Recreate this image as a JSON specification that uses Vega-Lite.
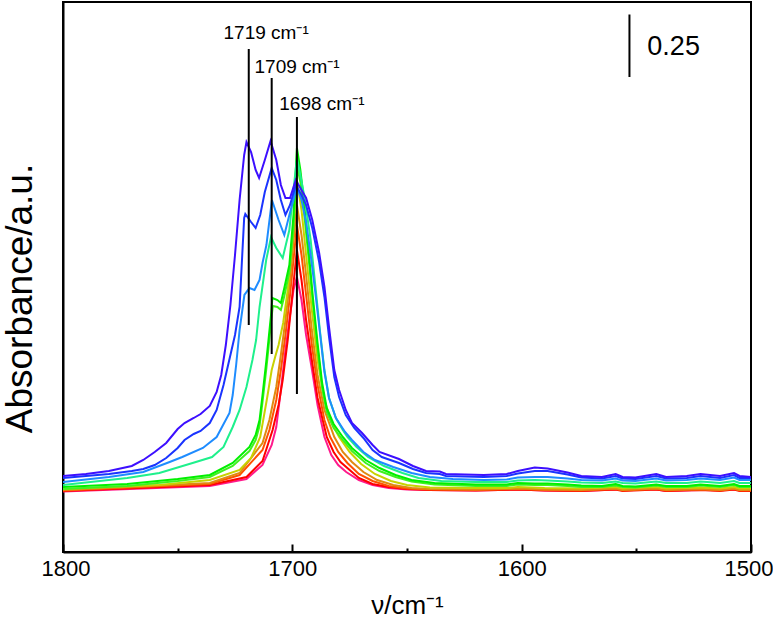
{
"$schema": "https://vega.github.io/schema/vega-lite/v6.json",
"width": 688, "height": 550,
"autosize": {"type": "none"},
"padding": {"left": 63, "top": 2, "right": 22, "bottom": 78},
"background": "white",
"config": {"font": "Liberation Sans", "view": {"stroke": "black", "strokeWidth": 2}, "axis": {"grid": false}},
"datasets": {
"spectra": [
{"series":"pink","nu":1800,"A":0.242},{"series":"pink","nu":1736,"A":0.264},{"series":"pink","nu":1720,"A":0.292},{"series":"pink","nu":1713,"A":0.348},{"series":"pink","nu":1709,"A":0.428},{"series":"pink","nu":1707,"A":0.5},{"series":"pink","nu":1705,"A":0.648},{"series":"pink","nu":1703,"A":0.808},{"series":"pink","nu":1701,"A":0.948},{"series":"pink","nu":1699.5,"A":1.048},{"series":"pink","nu":1698,"A":1.1},{"series":"pink","nu":1696,"A":1.008},{"series":"pink","nu":1694,"A":0.868},{"series":"pink","nu":1691.4,"A":0.728},{"series":"pink","nu":1689,"A":0.588},{"series":"pink","nu":1686,"A":0.46},{"series":"pink","nu":1683,"A":0.388},{"series":"pink","nu":1680,"A":0.348},{"series":"pink","nu":1676.5,"A":0.32},{"series":"pink","nu":1671,"A":0.288},{"series":"pink","nu":1665,"A":0.268},{"series":"pink","nu":1658,"A":0.256},{"series":"pink","nu":1650,"A":0.25},{"series":"pink","nu":1640,"A":0.248},{"series":"pink","nu":1620,"A":0.246},{"series":"pink","nu":1601.7,"A":0.25},{"series":"pink","nu":1590,"A":0.246},{"series":"pink","nu":1574,"A":0.244},{"series":"pink","nu":1559,"A":0.25},{"series":"pink","nu":1541.3,"A":0.25},{"series":"pink","nu":1537,"A":0.244},{"series":"pink","nu":1522,"A":0.248},{"series":"pink","nu":1507.4,"A":0.25},{"series":"pink","nu":1500,"A":0.244},

{"series":"red","nu":1800,"A":0.244},{"series":"red","nu":1736,"A":0.268},{"series":"red","nu":1720,"A":0.3},{"series":"red","nu":1713,"A":0.364},{"series":"red","nu":1708.6,"A":0.488},{"series":"red","nu":1706,"A":0.588},{"series":"red","nu":1704.2,"A":0.688},{"series":"red","nu":1702,"A":0.848},{"series":"red","nu":1700,"A":1.028},{"series":"red","nu":1698,"A":1.208},{"series":"red","nu":1696,"A":1.088},{"series":"red","nu":1694,"A":0.928},{"series":"red","nu":1691.5,"A":0.768},{"series":"red","nu":1689,"A":0.616},{"series":"red","nu":1685,"A":0.46},{"series":"red","nu":1682,"A":0.4},{"series":"red","nu":1679,"A":0.36},{"series":"red","nu":1675,"A":0.328},{"series":"red","nu":1671,"A":0.296},{"series":"red","nu":1665,"A":0.272},{"series":"red","nu":1658,"A":0.26},{"series":"red","nu":1650,"A":0.252},{"series":"red","nu":1640,"A":0.248},{"series":"red","nu":1620,"A":0.246},{"series":"red","nu":1601.7,"A":0.25},{"series":"red","nu":1590,"A":0.246},{"series":"red","nu":1574,"A":0.244},{"series":"red","nu":1559,"A":0.25},{"series":"red","nu":1556,"A":0.244},{"series":"red","nu":1541.3,"A":0.25},{"series":"red","nu":1537,"A":0.244},{"series":"red","nu":1522,"A":0.248},{"series":"red","nu":1513.5,"A":0.244},{"series":"red","nu":1507.4,"A":0.25},{"series":"red","nu":1505,"A":0.244},{"series":"red","nu":1500,"A":0.244},

{"series":"redorange","nu":1800,"A":0.246},{"series":"redorange","nu":1736,"A":0.272},{"series":"redorange","nu":1723,"A":0.308},{"series":"redorange","nu":1713,"A":0.408},{"series":"redorange","nu":1710,"A":0.488},{"series":"redorange","nu":1707,"A":0.608},{"series":"redorange","nu":1705,"A":0.728},{"series":"redorange","nu":1703,"A":0.868},{"series":"redorange","nu":1701,"A":1.028},{"series":"redorange","nu":1699.5,"A":1.168},{"series":"redorange","nu":1698,"A":1.308},{"series":"redorange","nu":1696,"A":1.188},{"series":"redorange","nu":1694,"A":1.028},{"series":"redorange","nu":1691.5,"A":0.828},{"series":"redorange","nu":1689,"A":0.668},{"series":"redorange","nu":1686,"A":0.528},{"series":"redorange","nu":1683.5,"A":0.46},{"series":"redorange","nu":1680,"A":0.4},{"series":"redorange","nu":1676,"A":0.356},{"series":"redorange","nu":1671,"A":0.312},{"series":"redorange","nu":1665,"A":0.284},{"series":"redorange","nu":1658,"A":0.264},{"series":"redorange","nu":1650,"A":0.254},{"series":"redorange","nu":1640,"A":0.25},{"series":"redorange","nu":1620,"A":0.248},{"series":"redorange","nu":1601.7,"A":0.252},{"series":"redorange","nu":1590,"A":0.248},{"series":"redorange","nu":1574,"A":0.246},{"series":"redorange","nu":1559,"A":0.252},{"series":"redorange","nu":1556,"A":0.246},{"series":"redorange","nu":1541.3,"A":0.252},{"series":"redorange","nu":1537,"A":0.246},{"series":"redorange","nu":1522,"A":0.25},{"series":"redorange","nu":1513.5,"A":0.246},{"series":"redorange","nu":1507.4,"A":0.252},{"series":"redorange","nu":1505,"A":0.246},{"series":"redorange","nu":1500,"A":0.246},

{"series":"orange","nu":1800,"A":0.248},{"series":"orange","nu":1736,"A":0.276},{"series":"orange","nu":1723,"A":0.316},{"series":"orange","nu":1713,"A":0.436},{"series":"orange","nu":1710,"A":0.528},{"series":"orange","nu":1707,"A":0.66},{"series":"orange","nu":1705,"A":0.788},{"series":"orange","nu":1703,"A":0.928},{"series":"orange","nu":1701,"A":1.088},{"series":"orange","nu":1699.5,"A":1.24},{"series":"orange","nu":1698,"A":1.388},{"series":"orange","nu":1696,"A":1.268},{"series":"orange","nu":1694,"A":1.108},{"series":"orange","nu":1691.5,"A":0.888},{"series":"orange","nu":1689,"A":0.708},{"series":"orange","nu":1686,"A":0.568},{"series":"orange","nu":1681.7,"A":0.46},{"series":"orange","nu":1678,"A":0.4},{"series":"orange","nu":1674,"A":0.36},{"series":"orange","nu":1669,"A":0.32},{"series":"orange","nu":1663,"A":0.288},{"series":"orange","nu":1656,"A":0.268},{"series":"orange","nu":1648,"A":0.256},{"series":"orange","nu":1640,"A":0.252},{"series":"orange","nu":1620,"A":0.25},{"series":"orange","nu":1601.7,"A":0.254},{"series":"orange","nu":1590,"A":0.25},{"series":"orange","nu":1574,"A":0.248},{"series":"orange","nu":1559,"A":0.254},{"series":"orange","nu":1556,"A":0.248},{"series":"orange","nu":1541.3,"A":0.254},{"series":"orange","nu":1537,"A":0.248},{"series":"orange","nu":1522,"A":0.252},{"series":"orange","nu":1513.5,"A":0.248},{"series":"orange","nu":1507.4,"A":0.254},{"series":"orange","nu":1505,"A":0.248},{"series":"orange","nu":1500,"A":0.248},

{"series":"yellow","nu":1800,"A":0.252},{"series":"yellow","nu":1758,"A":0.268},{"series":"yellow","nu":1736,"A":0.288},{"series":"yellow","nu":1723,"A":0.328},{"series":"yellow","nu":1718,"A":0.376},{"series":"yellow","nu":1714,"A":0.46},{"series":"yellow","nu":1711,"A":0.616},{"series":"yellow","nu":1709,"A":0.728},{"series":"yellow","nu":1707.5,"A":0.78},{"series":"yellow","nu":1706,"A":0.828},{"series":"yellow","nu":1704,"A":0.916},{"series":"yellow","nu":1702,"A":1.048},{"series":"yellow","nu":1700,"A":1.248},{"series":"yellow","nu":1698,"A":1.488},{"series":"yellow","nu":1696,"A":1.368},{"series":"yellow","nu":1694,"A":1.188},{"series":"yellow","nu":1691.5,"A":0.968},{"series":"yellow","nu":1689,"A":0.768},{"series":"yellow","nu":1686,"A":0.608},{"series":"yellow","nu":1683,"A":0.52},{"series":"yellow","nu":1679.6,"A":0.46},{"series":"yellow","nu":1675,"A":0.4},{"series":"yellow","nu":1670,"A":0.352},{"series":"yellow","nu":1664,"A":0.312},{"series":"yellow","nu":1657,"A":0.284},{"series":"yellow","nu":1650,"A":0.268},{"series":"yellow","nu":1640,"A":0.258},{"series":"yellow","nu":1620,"A":0.256},{"series":"yellow","nu":1606.5,"A":0.256},{"series":"yellow","nu":1601.7,"A":0.26},{"series":"yellow","nu":1590,"A":0.256},{"series":"yellow","nu":1574,"A":0.254},{"series":"yellow","nu":1559,"A":0.26},{"series":"yellow","nu":1556,"A":0.254},{"series":"yellow","nu":1541.3,"A":0.26},{"series":"yellow","nu":1537,"A":0.254},{"series":"yellow","nu":1522,"A":0.258},{"series":"yellow","nu":1513.5,"A":0.254},{"series":"yellow","nu":1507.4,"A":0.26},{"series":"yellow","nu":1505,"A":0.254},{"series":"yellow","nu":1500,"A":0.254},

{"series":"greenB","nu":1800,"A":0.252},{"series":"greenB","nu":1772,"A":0.264},{"series":"greenB","nu":1750,"A":0.284},{"series":"greenB","nu":1736,"A":0.3},{"series":"greenB","nu":1726,"A":0.344},{"series":"greenB","nu":1718.7,"A":0.404},{"series":"greenB","nu":1716,"A":0.448},{"series":"greenB","nu":1714.3,"A":0.504},{"series":"greenB","nu":1713,"A":0.6},{"series":"greenB","nu":1711.3,"A":0.736},{"series":"greenB","nu":1710.4,"A":0.816},{"series":"greenB","nu":1709.3,"A":0.92},{"series":"greenB","nu":1708.5,"A":0.984},{"series":"greenB","nu":1706.5,"A":0.98},{"series":"greenB","nu":1705,"A":0.968},{"series":"greenB","nu":1703.5,"A":1.024},{"series":"greenB","nu":1701.3,"A":1.12},{"series":"greenB","nu":1699.5,"A":1.296},{"series":"greenB","nu":1698,"A":1.548},{"series":"greenB","nu":1696.5,"A":1.48},{"series":"greenB","nu":1695,"A":1.368},{"series":"greenB","nu":1693,"A":1.184},{"series":"greenB","nu":1691,"A":0.992},{"series":"greenB","nu":1689,"A":0.816},{"series":"greenB","nu":1687,"A":0.656},{"series":"greenB","nu":1685,"A":0.56},{"series":"greenB","nu":1682,"A":0.496},{"series":"greenB","nu":1678,"A":0.448},{"series":"greenB","nu":1674,"A":0.404},{"series":"greenB","nu":1668,"A":0.356},{"series":"greenB","nu":1662,"A":0.324},{"series":"greenB","nu":1655,"A":0.3},{"series":"greenB","nu":1648,"A":0.282},{"series":"greenB","nu":1638,"A":0.27},{"series":"greenB","nu":1620,"A":0.264},{"series":"greenB","nu":1606.5,"A":0.264},{"series":"greenB","nu":1601.7,"A":0.27},{"series":"greenB","nu":1594.3,"A":0.268},{"series":"greenB","nu":1588.7,"A":0.268},{"series":"greenB","nu":1580,"A":0.264},{"series":"greenB","nu":1574,"A":0.26},{"series":"greenB","nu":1565,"A":0.26},{"series":"greenB","nu":1559,"A":0.266},{"series":"greenB","nu":1556,"A":0.26},{"series":"greenB","nu":1550.4,"A":0.258},{"series":"greenB","nu":1541.3,"A":0.266},{"series":"greenB","nu":1537,"A":0.26},{"series":"greenB","nu":1528,"A":0.26},{"series":"greenB","nu":1522,"A":0.266},{"series":"greenB","nu":1513.5,"A":0.26},{"series":"greenB","nu":1507.4,"A":0.268},{"series":"greenB","nu":1505,"A":0.26},{"series":"greenB","nu":1500,"A":0.26},

{"series":"greenA","nu":1800,"A":0.26},{"series":"greenA","nu":1772,"A":0.272},{"series":"greenA","nu":1750,"A":0.292},{"series":"greenA","nu":1736,"A":0.308},{"series":"greenA","nu":1726,"A":0.356},{"series":"greenA","nu":1718.7,"A":0.42},{"series":"greenA","nu":1716,"A":0.468},{"series":"greenA","nu":1714.3,"A":0.528},{"series":"greenA","nu":1713,"A":0.628},{"series":"greenA","nu":1711.3,"A":0.768},{"series":"greenA","nu":1710.4,"A":0.848},{"series":"greenA","nu":1709.3,"A":0.948},{"series":"greenA","nu":1708.7,"A":1.016},{"series":"greenA","nu":1706.5,"A":1.008},{"series":"greenA","nu":1705,"A":0.996},{"series":"greenA","nu":1703.5,"A":1.056},{"series":"greenA","nu":1701.3,"A":1.148},{"series":"greenA","nu":1699.5,"A":1.348},{"series":"greenA","nu":1698,"A":1.616},{"series":"greenA","nu":1696.5,"A":1.528},{"series":"greenA","nu":1695,"A":1.408},{"series":"greenA","nu":1693,"A":1.216},{"series":"greenA","nu":1691,"A":1.016},{"series":"greenA","nu":1689,"A":0.836},{"series":"greenA","nu":1687,"A":0.676},{"series":"greenA","nu":1685,"A":0.576},{"series":"greenA","nu":1682,"A":0.512},{"series":"greenA","nu":1678,"A":0.46},{"series":"greenA","nu":1674,"A":0.416},{"series":"greenA","nu":1668,"A":0.368},{"series":"greenA","nu":1662,"A":0.336},{"series":"greenA","nu":1655,"A":0.308},{"series":"greenA","nu":1648,"A":0.288},{"series":"greenA","nu":1638,"A":0.276},{"series":"greenA","nu":1620,"A":0.27},{"series":"greenA","nu":1606.5,"A":0.27},{"series":"greenA","nu":1601.7,"A":0.276},{"series":"greenA","nu":1594.3,"A":0.274},{"series":"greenA","nu":1588.7,"A":0.274},{"series":"greenA","nu":1580,"A":0.27},{"series":"greenA","nu":1574,"A":0.266},{"series":"greenA","nu":1565,"A":0.264},{"series":"greenA","nu":1559,"A":0.272},{"series":"greenA","nu":1556,"A":0.264},{"series":"greenA","nu":1550.4,"A":0.262},{"series":"greenA","nu":1541.3,"A":0.27},{"series":"greenA","nu":1537,"A":0.264},{"series":"greenA","nu":1528,"A":0.264},{"series":"greenA","nu":1522,"A":0.27},{"series":"greenA","nu":1513.5,"A":0.264},{"series":"greenA","nu":1507.4,"A":0.272},{"series":"greenA","nu":1505,"A":0.264},{"series":"greenA","nu":1500,"A":0.264},

{"series":"spring","nu":1800,"A":0.268},{"series":"spring","nu":1772,"A":0.296},{"series":"spring","nu":1758,"A":0.316},{"series":"spring","nu":1743.5,"A":0.356},{"series":"spring","nu":1735,"A":0.38},{"series":"spring","nu":1730,"A":0.42},{"series":"spring","nu":1726,"A":0.5},{"series":"spring","nu":1723,"A":0.568},{"series":"spring","nu":1720,"A":0.66},{"series":"spring","nu":1717.4,"A":0.768},{"series":"spring","nu":1715.8,"A":0.848},{"series":"spring","nu":1714.3,"A":0.98},{"series":"spring","nu":1711.4,"A":1.168},{"series":"spring","nu":1709.3,"A":1.26},{"series":"spring","nu":1707,"A":1.216},{"series":"spring","nu":1704.2,"A":1.176},{"series":"spring","nu":1701.3,"A":1.288},{"series":"spring","nu":1699.5,"A":1.448},{"series":"spring","nu":1698,"A":1.576},{"series":"spring","nu":1696.5,"A":1.508},{"series":"spring","nu":1694.5,"A":1.408},{"series":"spring","nu":1692,"A":1.248},{"series":"spring","nu":1690,"A":1.068},{"series":"spring","nu":1688,"A":0.888},{"series":"spring","nu":1686,"A":0.728},{"series":"spring","nu":1684,"A":0.616},{"series":"spring","nu":1681,"A":0.536},{"series":"spring","nu":1678,"A":0.488},{"series":"spring","nu":1676,"A":0.46},{"series":"spring","nu":1672,"A":0.42},{"series":"spring","nu":1667,"A":0.38},{"series":"spring","nu":1660,"A":0.344},{"series":"spring","nu":1652,"A":0.316},{"series":"spring","nu":1645,"A":0.296},{"series":"spring","nu":1635,"A":0.284},{"series":"spring","nu":1620,"A":0.28},{"series":"spring","nu":1606.5,"A":0.28},{"series":"spring","nu":1601.7,"A":0.286},{"series":"spring","nu":1594.3,"A":0.288},{"series":"spring","nu":1588.7,"A":0.286},{"series":"spring","nu":1580,"A":0.282},{"series":"spring","nu":1574,"A":0.278},{"series":"spring","nu":1565,"A":0.276},{"series":"spring","nu":1559,"A":0.282},{"series":"spring","nu":1556,"A":0.276},{"series":"spring","nu":1550.4,"A":0.274},{"series":"spring","nu":1541.3,"A":0.282},{"series":"spring","nu":1537,"A":0.276},{"series":"spring","nu":1528,"A":0.276},{"series":"spring","nu":1522,"A":0.282},{"series":"spring","nu":1513.5,"A":0.276},{"series":"spring","nu":1507.4,"A":0.284},{"series":"spring","nu":1505,"A":0.276},{"series":"spring","nu":1500,"A":0.276},

{"series":"lightblue","nu":1800,"A":0.28},{"series":"lightblue","nu":1780,"A":0.3},{"series":"lightblue","nu":1765,"A":0.32},{"series":"lightblue","nu":1753.5,"A":0.36},{"series":"lightblue","nu":1748,"A":0.38},{"series":"lightblue","nu":1739,"A":0.416},{"series":"lightblue","nu":1733,"A":0.46},{"series":"lightblue","nu":1727.4,"A":0.556},{"series":"lightblue","nu":1726,"A":0.628},{"series":"lightblue","nu":1724.5,"A":0.748},{"series":"lightblue","nu":1723,"A":0.888},{"series":"lightblue","nu":1720.9,"A":1.028},{"series":"lightblue","nu":1718.7,"A":1.056},{"series":"lightblue","nu":1716.5,"A":1.048},{"series":"lightblue","nu":1714.3,"A":1.088},{"series":"lightblue","nu":1713,"A":1.156},{"series":"lightblue","nu":1711.3,"A":1.228},{"series":"lightblue","nu":1708.9,"A":1.408},{"series":"lightblue","nu":1706,"A":1.328},{"series":"lightblue","nu":1703.5,"A":1.268},{"series":"lightblue","nu":1701.3,"A":1.348},{"series":"lightblue","nu":1698,"A":1.46},{"series":"lightblue","nu":1696,"A":1.408},{"series":"lightblue","nu":1694,"A":1.32},{"series":"lightblue","nu":1692,"A":1.188},{"series":"lightblue","nu":1690,"A":1.04},{"series":"lightblue","nu":1688,"A":0.88},{"series":"lightblue","nu":1686,"A":0.72},{"series":"lightblue","nu":1684,"A":0.616},{"series":"lightblue","nu":1681,"A":0.536},{"series":"lightblue","nu":1677,"A":0.48},{"series":"lightblue","nu":1674,"A":0.448},{"series":"lightblue","nu":1669,"A":0.4},{"series":"lightblue","nu":1664,"A":0.368},{"series":"lightblue","nu":1656,"A":0.34},{"series":"lightblue","nu":1648,"A":0.316},{"series":"lightblue","nu":1640,"A":0.3},{"series":"lightblue","nu":1630,"A":0.292},{"series":"lightblue","nu":1616.5,"A":0.288},{"series":"lightblue","nu":1606.5,"A":0.29},{"series":"lightblue","nu":1601.7,"A":0.298},{"series":"lightblue","nu":1594.3,"A":0.3},{"series":"lightblue","nu":1588.7,"A":0.3},{"series":"lightblue","nu":1580,"A":0.294},{"series":"lightblue","nu":1574,"A":0.288},{"series":"lightblue","nu":1565,"A":0.286},{"series":"lightblue","nu":1559,"A":0.294},{"series":"lightblue","nu":1556,"A":0.286},{"series":"lightblue","nu":1550.4,"A":0.284},{"series":"lightblue","nu":1541.3,"A":0.294},{"series":"lightblue","nu":1537,"A":0.286},{"series":"lightblue","nu":1528,"A":0.288},{"series":"lightblue","nu":1522,"A":0.294},{"series":"lightblue","nu":1513.5,"A":0.288},{"series":"lightblue","nu":1507.4,"A":0.298},{"series":"lightblue","nu":1505,"A":0.288},{"series":"lightblue","nu":1500,"A":0.288},

{"series":"blue","nu":1800,"A":0.296},{"series":"blue","nu":1790,"A":0.304},{"series":"blue","nu":1780,"A":0.312},{"series":"blue","nu":1770,"A":0.324},{"series":"blue","nu":1765,"A":0.332},{"series":"blue","nu":1760,"A":0.348},{"series":"blue","nu":1755,"A":0.376},{"series":"blue","nu":1750,"A":0.416},{"series":"blue","nu":1747,"A":0.448},{"series":"blue","nu":1743,"A":0.472},{"series":"blue","nu":1740,"A":0.484},{"series":"blue","nu":1736,"A":0.516},{"series":"blue","nu":1733,"A":0.568},{"series":"blue","nu":1730,"A":0.668},{"series":"blue","nu":1727.5,"A":0.768},{"series":"blue","nu":1725,"A":0.868},{"series":"blue","nu":1723,"A":0.98},{"series":"blue","nu":1722,"A":1.16},{"series":"blue","nu":1721,"A":1.336},{"series":"blue","nu":1720.5,"A":1.352},{"series":"blue","nu":1718,"A":1.32},{"series":"blue","nu":1716,"A":1.296},{"series":"blue","nu":1714,"A":1.348},{"series":"blue","nu":1712,"A":1.44},{"series":"blue","nu":1709,"A":1.536},{"series":"blue","nu":1707,"A":1.488},{"series":"blue","nu":1705,"A":1.408},{"series":"blue","nu":1703,"A":1.348},{"series":"blue","nu":1701,"A":1.388},{"series":"blue","nu":1698.5,"A":1.468},{"series":"blue","nu":1696,"A":1.428},{"series":"blue","nu":1694,"A":1.388},{"series":"blue","nu":1691.3,"A":1.296},{"series":"blue","nu":1688.3,"A":1.16},{"series":"blue","nu":1686,"A":1.02},{"series":"blue","nu":1684,"A":0.86},{"series":"blue","nu":1681.7,"A":0.7},{"series":"blue","nu":1679.6,"A":0.62},{"series":"blue","nu":1676.7,"A":0.548},{"series":"blue","nu":1673,"A":0.496},{"series":"blue","nu":1669,"A":0.456},{"series":"blue","nu":1665,"A":0.408},{"series":"blue","nu":1661,"A":0.38},{"series":"blue","nu":1653.5,"A":0.356},{"series":"blue","nu":1647.4,"A":0.332},{"series":"blue","nu":1641.7,"A":0.316},{"series":"blue","nu":1635.7,"A":0.312},{"series":"blue","nu":1633,"A":0.304},{"series":"blue","nu":1616.5,"A":0.3},{"series":"blue","nu":1606.5,"A":0.304},{"series":"blue","nu":1601.7,"A":0.314},{"series":"blue","nu":1594.3,"A":0.324},{"series":"blue","nu":1588.7,"A":0.324},{"series":"blue","nu":1580,"A":0.31},{"series":"blue","nu":1574,"A":0.298},{"series":"blue","nu":1565,"A":0.294},{"series":"blue","nu":1559,"A":0.304},{"series":"blue","nu":1556,"A":0.294},{"series":"blue","nu":1550.4,"A":0.292},{"series":"blue","nu":1541.3,"A":0.304},{"series":"blue","nu":1537,"A":0.294},{"series":"blue","nu":1528,"A":0.296},{"series":"blue","nu":1522,"A":0.304},{"series":"blue","nu":1513.5,"A":0.296},{"series":"blue","nu":1507.4,"A":0.308},{"series":"blue","nu":1505,"A":0.296},{"series":"blue","nu":1500,"A":0.296},

{"series":"violet","nu":1800,"A":0.304},{"series":"violet","nu":1790,"A":0.312},{"series":"violet","nu":1780,"A":0.324},{"series":"violet","nu":1770,"A":0.344},{"series":"violet","nu":1765,"A":0.368},{"series":"violet","nu":1760,"A":0.4},{"series":"violet","nu":1755,"A":0.436},{"series":"violet","nu":1750,"A":0.492},{"series":"violet","nu":1747,"A":0.516},{"series":"violet","nu":1743,"A":0.536},{"series":"violet","nu":1740,"A":0.552},{"series":"violet","nu":1736,"A":0.584},{"series":"violet","nu":1733,"A":0.64},{"series":"violet","nu":1731,"A":0.708},{"series":"violet","nu":1729,"A":0.828},{"series":"violet","nu":1727,"A":0.988},{"series":"violet","nu":1725,"A":1.188},{"series":"violet","nu":1723,"A":1.408},{"series":"violet","nu":1721,"A":1.588},{"series":"violet","nu":1720,"A":1.64},{"series":"violet","nu":1718,"A":1.6},{"series":"violet","nu":1716,"A":1.528},{"series":"violet","nu":1714.5,"A":1.496},{"series":"violet","nu":1712,"A":1.568},{"series":"violet","nu":1709.5,"A":1.644},{"series":"violet","nu":1707,"A":1.568},{"series":"violet","nu":1705,"A":1.468},{"series":"violet","nu":1703,"A":1.416},{"series":"violet","nu":1701,"A":1.416},{"series":"violet","nu":1698.5,"A":1.488},{"series":"violet","nu":1696,"A":1.448},{"series":"violet","nu":1694,"A":1.416},{"series":"violet","nu":1691.3,"A":1.328},{"series":"violet","nu":1688.3,"A":1.196},{"series":"violet","nu":1686,"A":1.06},{"series":"violet","nu":1684,"A":0.9},{"series":"violet","nu":1681.7,"A":0.728},{"series":"violet","nu":1679.6,"A":0.648},{"series":"violet","nu":1676.7,"A":0.568},{"series":"violet","nu":1674,"A":0.516},{"series":"violet","nu":1669.6,"A":0.476},{"series":"violet","nu":1665,"A":0.428},{"series":"violet","nu":1662,"A":0.4},{"series":"violet","nu":1653.5,"A":0.372},{"series":"violet","nu":1647.4,"A":0.344},{"series":"violet","nu":1641.7,"A":0.324},{"series":"violet","nu":1635.7,"A":0.322},{"series":"violet","nu":1633,"A":0.312},{"series":"violet","nu":1616.5,"A":0.308},{"series":"violet","nu":1606.5,"A":0.312},{"series":"violet","nu":1601.7,"A":0.324},{"series":"violet","nu":1594.3,"A":0.338},{"series":"violet","nu":1588.7,"A":0.334},{"series":"violet","nu":1580,"A":0.318},{"series":"violet","nu":1574,"A":0.304},{"series":"violet","nu":1565,"A":0.3},{"series":"violet","nu":1559,"A":0.312},{"series":"violet","nu":1556,"A":0.3},{"series":"violet","nu":1550.4,"A":0.298},{"series":"violet","nu":1541.3,"A":0.312},{"series":"violet","nu":1537,"A":0.3},{"series":"violet","nu":1528,"A":0.304},{"series":"violet","nu":1522,"A":0.312},{"series":"violet","nu":1513.5,"A":0.304},{"series":"violet","nu":1507.4,"A":0.316},{"series":"violet","nu":1505,"A":0.304},{"series":"violet","nu":1500,"A":0.3}
],
"rules": [
{"nu":1719,"lo":0.908,"hi":2.012},
{"nu":1709,"lo":0.792,"hi":1.896},
{"nu":1698,"lo":0.632,"hi":1.74},
{"nu":1553,"lo":1.9,"hi":2.15}
],
"peaks": [
{"nu":1730,"A":2.052,"label":"1719 cm⁻¹"},
{"nu":1716.5,"A":1.916,"label":"1709 cm⁻¹"},
{"nu":1705.7,"A":1.768,"label":"1698 cm⁻¹"}
],
"bar": [
{"nu":1545.2,"A":1.988,"label":"0.25"}
]
},
"layer": [
{"data": {"name": "spectra"},
 "mark": {"type": "line", "strokeWidth": 2, "clip": true},
 "encoding": {
  "x": {"field": "nu", "type": "quantitative",
        "scale": {"domain": [1500, 1800], "reverse": true, "nice": false, "zero": false},
        "axis": {"values": [1800,1750,1700,1650,1600,1550,1500], "format": "d",
                 "labelExpr": "datum.value % 100 === 0 ? datum.label : ''",
                 "tickSize": {"condition": {"test": "datum.value % 100 === 0", "value": -8}, "value": -4},
                 "tickColor": "black", "tickWidth": 2,
                 "domain": true, "domainColor": "black", "domainWidth": 2,
                 "labelFontSize": 22, "labelColor": "black", "labelPadding": 14,
                 "labelFlush": true, "labelFlushOffset": 22,
                 "title": "ν/cm⁻¹", "titleFontSize": 26, "titleFontWeight": "normal", "titleColor": "black", "titlePadding": 13}},
  "y": {"field": "A", "type": "quantitative",
        "scale": {"domain": [0, 2.2], "nice": false, "zero": false},
        "axis": {"ticks": false, "labels": false, "domain": true, "domainColor": "black", "domainWidth": 2,
                 "title": "Absorbance/a.u.", "titleFontSize": 37, "titleFontWeight": "normal", "titleColor": "black", "titlePadding": 24, "titleY": 296}},
  "color": {"field": "series", "type": "nominal", "legend": null,
            "scale": {"domain": ["pink","red","redorange","orange","yellow","greenB","greenA","spring","lightblue","blue","violet"],
                      "range": ["#ff1a8c","#ff0000","#ff5000","#e08a10","#c8d200","#40f020","#00f000","#1ef08c","#1e8cff","#1a34ff","#3c0fff"]}}
 }},
{"data": {"name": "rules"},
 "mark": {"type": "rule", "color": "black", "strokeWidth": 2},
 "encoding": {"x": {"field": "nu", "type": "quantitative"}, "y": {"field": "lo", "type": "quantitative"}, "y2": {"field": "hi"}}},
{"data": {"name": "peaks"},
 "mark": {"type": "text", "align": "left", "baseline": "alphabetic", "fontSize": 19, "color": "black"},
 "encoding": {"x": {"field": "nu", "type": "quantitative"}, "y": {"field": "A", "type": "quantitative"}, "text": {"field": "label"}}},
{"data": {"name": "bar"},
 "mark": {"type": "text", "align": "left", "baseline": "alphabetic", "fontSize": 27, "color": "black"},
 "encoding": {"x": {"field": "nu", "type": "quantitative"}, "y": {"field": "A", "type": "quantitative"}, "text": {"field": "label"}}}
]
}
